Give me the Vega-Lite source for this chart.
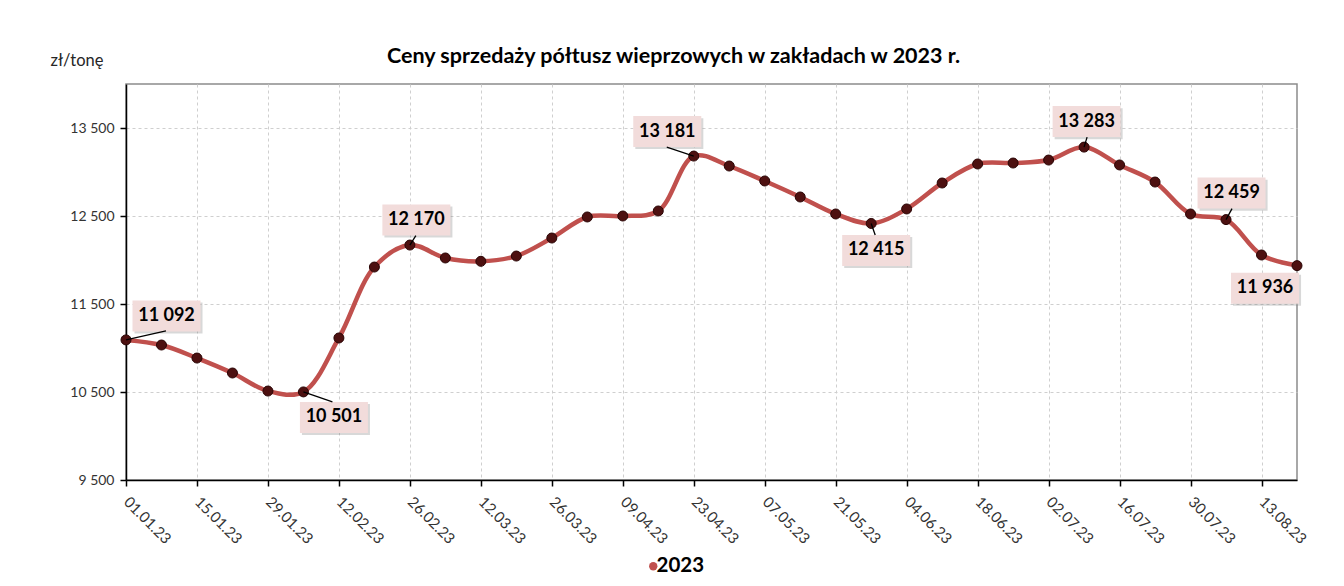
{
  "$schema": "https://vega.github.io/schema/vega-lite/v6.json",
  "autosize": {"type": "none"},
  "width": 1171,
  "height": 396,
  "padding": {"left": 126, "top": 84, "right": 47, "bottom": 106},
  "background": "white",
  "config": {
    "font": "Lato",
    "locale": {"number": {"decimal": ",", "thousands": " ", "grouping": [3], "currency": ["", " zł"]}},
    "view": {"stroke": "#8c8c8c", "strokeWidth": 1.5},
    "axis": {
      "domainColor": "#000000", "domainWidth": 1.5,
      "tickColor": "#000000", "tickWidth": 1.5, "tickSize": 6,
      "gridColor": "#cfcfcf", "gridDash": [3, 3], "gridWidth": 1,
      "labelFont": "Lato", "labelFontSize": 14, "labelColor": "#333333",
      "titleFont": "Lato"
    }
  },
  "title": {
    "text": "Ceny sprzedaży półtusz wieprzowych w zakładach w 2023 r.",
    "font": "Lato", "fontSize": 21.5, "fontWeight": "bold", "color": "#000000",
    "anchor": "middle", "frame": "group", "dx": -38, "dy": 29, "offset": 14
  },
  "data": {
    "values": [
      {"date": "2023-01-01", "price": 11092, "series": "2023"},
      {"date": "2023-01-08", "price": 11034, "series": "2023"},
      {"date": "2023-01-15", "price": 10886, "series": "2023"},
      {"date": "2023-01-22", "price": 10716, "series": "2023"},
      {"date": "2023-01-29", "price": 10511, "series": "2023"},
      {"date": "2023-02-05", "price": 10501, "series": "2023"},
      {"date": "2023-02-12", "price": 11114, "series": "2023"},
      {"date": "2023-02-19", "price": 11920, "series": "2023"},
      {"date": "2023-02-26", "price": 12170, "series": "2023"},
      {"date": "2023-03-05", "price": 12023, "series": "2023"},
      {"date": "2023-03-12", "price": 11985, "series": "2023"},
      {"date": "2023-03-19", "price": 12045, "series": "2023"},
      {"date": "2023-03-26", "price": 12250, "series": "2023"},
      {"date": "2023-04-02", "price": 12489, "series": "2023"},
      {"date": "2023-04-09", "price": 12500, "series": "2023"},
      {"date": "2023-04-16", "price": 12557, "series": "2023"},
      {"date": "2023-04-23", "price": 13181, "series": "2023"},
      {"date": "2023-04-30", "price": 13068, "series": "2023"},
      {"date": "2023-05-07", "price": 12898, "series": "2023"},
      {"date": "2023-05-14", "price": 12716, "series": "2023"},
      {"date": "2023-05-21", "price": 12523, "series": "2023"},
      {"date": "2023-05-28", "price": 12415, "series": "2023"},
      {"date": "2023-06-04", "price": 12580, "series": "2023"},
      {"date": "2023-06-11", "price": 12875, "series": "2023"},
      {"date": "2023-06-18", "price": 13091, "series": "2023"},
      {"date": "2023-06-25", "price": 13102, "series": "2023"},
      {"date": "2023-07-02", "price": 13136, "series": "2023"},
      {"date": "2023-07-09", "price": 13283, "series": "2023"},
      {"date": "2023-07-16", "price": 13080, "series": "2023"},
      {"date": "2023-07-23", "price": 12886, "series": "2023"},
      {"date": "2023-07-30", "price": 12523, "series": "2023"},
      {"date": "2023-08-06", "price": 12459, "series": "2023"},
      {"date": "2023-08-13", "price": 12057, "series": "2023"},
      {"date": "2023-08-20", "price": 11936, "series": "2023"}
    ]
  },
  "encoding": {
    "x": {
      "field": "date", "type": "temporal",
      "scale": {"type": "utc", "nice": false, "domain": [
        {"year": 2023, "month": 1, "date": 1, "utc": true},
        {"year": 2023, "month": 8, "date": 20, "utc": true}
      ]},
      "axis": {
        "title": null, "format": "%d.%m.%y", "labelAngle": 45, "labelAlign": "left", "labelBaseline": "middle", "labelPadding": 13, "labelFontSize": 15,
        "values": [
          {"year": 2023, "month": 1, "date": 1, "utc": true},
          {"year": 2023, "month": 1, "date": 15, "utc": true},
          {"year": 2023, "month": 1, "date": 29, "utc": true},
          {"year": 2023, "month": 2, "date": 12, "utc": true},
          {"year": 2023, "month": 2, "date": 26, "utc": true},
          {"year": 2023, "month": 3, "date": 12, "utc": true},
          {"year": 2023, "month": 3, "date": 26, "utc": true},
          {"year": 2023, "month": 4, "date": 9, "utc": true},
          {"year": 2023, "month": 4, "date": 23, "utc": true},
          {"year": 2023, "month": 5, "date": 7, "utc": true},
          {"year": 2023, "month": 5, "date": 21, "utc": true},
          {"year": 2023, "month": 6, "date": 4, "utc": true},
          {"year": 2023, "month": 6, "date": 18, "utc": true},
          {"year": 2023, "month": 7, "date": 2, "utc": true},
          {"year": 2023, "month": 7, "date": 16, "utc": true},
          {"year": 2023, "month": 7, "date": 30, "utc": true},
          {"year": 2023, "month": 8, "date": 13, "utc": true}
        ]
      }
    },
    "y": {
      "field": "price", "type": "quantitative",
      "scale": {"domain": [9500, 14000], "nice": false, "zero": false},
      "axis": {
        "values": [9500, 10500, 11500, 12500, 13500],
        "format": ",d",
        "labelPadding": 6,
        "title": "zł/tonę", "titleAngle": 0, "titleAlign": "left", "titleBaseline": "middle",
        "titleX": -76, "titleY": -24, "titleFontSize": 16.5, "titleFontWeight": "normal", "titleColor": "#262626"
      }
    }
  },
  "layer": [
    {
      "mark": {"type": "line", "interpolate": "catmull-rom", "strokeWidth": 4.5, "clip": false},
      "encoding": {
        "color": {
          "field": "series", "type": "nominal",
          "scale": {"range": ["#C0504D"]},
          "legend": {
            "title": null, "orient": "none", "legendX": 517, "legendY": 472, "padding": 0,
            "symbolType": "circle", "symbolSize": 70, "symbolFillColor": "#C0504D", "symbolStrokeWidth": 0,
            "labelFont": "Lato", "labelFontSize": 20.5, "labelFontWeight": "bold", "labelColor": "#000000", "labelOffset": -7
          }
        }
      }
    },
    {
      "mark": {"type": "point", "filled": true, "size": 100, "color": "#4d1010", "stroke": "#2a0505", "strokeWidth": 1, "opacity": 1, "clip": false}
    },
    {
      "transform": [{"filter": "datum.price == 11092"}],
      "layer": [
        {"mark": {"type": "point", "shape": "M0.251,-1.102 H2.251 V-0.19 H0.251 Z", "size": 4624, "filled": true, "color": "#7f7f7f", "opacity": 0.3, "strokeWidth": 0}},
        {"mark": {"type": "point", "shape": "M0.191,-1.162 H2.191 V-0.25 H0.191 Z", "size": 4624, "filled": true, "color": "#F2DCDB", "opacity": 1, "strokeWidth": 0}},
        {"mark": {"type": "point", "shape": "M0,0 L1.176,-0.265", "size": 4624, "filled": false, "stroke": "#000000", "strokeWidth": 1.3, "opacity": 1}},
        {"mark": {"type": "text", "dx": 40.5, "dy": -24, "align": "center", "baseline": "middle", "font": "Lato", "fontSize": 18, "fontWeight": "bold", "color": "#000000"}, "encoding": {"text": {"field": "price", "type": "quantitative", "format": ",d"}}}
      ]
    },
    {
      "transform": [{"filter": "datum.price == 10501"}],
      "layer": [
        {"mark": {"type": "point", "shape": "M-0.043,0.354 H1.957 V1.266 H-0.043 Z", "size": 4624, "filled": true, "color": "#7f7f7f", "opacity": 0.3, "strokeWidth": 0}},
        {"mark": {"type": "point", "shape": "M-0.103,0.294 H1.897 V1.206 H-0.103 Z", "size": 4624, "filled": true, "color": "#F2DCDB", "opacity": 1, "strokeWidth": 0}},
        {"mark": {"type": "point", "shape": "M0,0 L0.853,0.294", "size": 4624, "filled": false, "stroke": "#000000", "strokeWidth": 1.3, "opacity": 1}},
        {"mark": {"type": "text", "dx": 30.5, "dy": 25.5, "align": "center", "baseline": "middle", "font": "Lato", "fontSize": 18, "fontWeight": "bold", "color": "#000000"}, "encoding": {"text": {"field": "price", "type": "quantitative", "format": ",d"}}}
      ]
    },
    {
      "transform": [{"filter": "datum.price == 12170"}],
      "layer": [
        {"mark": {"type": "point", "shape": "M-0.749,-1.131 H1.251 V-0.219 H-0.749 Z", "size": 4624, "filled": true, "color": "#7f7f7f", "opacity": 0.3, "strokeWidth": 0}},
        {"mark": {"type": "point", "shape": "M-0.809,-1.191 H1.191 V-0.279 H-0.809 Z", "size": 4624, "filled": true, "color": "#F2DCDB", "opacity": 1, "strokeWidth": 0}},
        {"mark": {"type": "point", "shape": "M0,0 L0.176,-0.279", "size": 4624, "filled": false, "stroke": "#000000", "strokeWidth": 1.3, "opacity": 1}},
        {"mark": {"type": "text", "dx": 6.5, "dy": -25, "align": "center", "baseline": "middle", "font": "Lato", "fontSize": 18, "fontWeight": "bold", "color": "#000000"}, "encoding": {"text": {"field": "price", "type": "quantitative", "format": ",d"}}}
      ]
    },
    {
      "transform": [{"filter": "datum.price == 13181"}],
      "layer": [
        {"mark": {"type": "point", "shape": "M-1.719,-1.116 H0.281 V-0.205 H-1.719 Z", "size": 4624, "filled": true, "color": "#7f7f7f", "opacity": 0.3, "strokeWidth": 0}},
        {"mark": {"type": "point", "shape": "M-1.779,-1.176 H0.221 V-0.265 H-1.779 Z", "size": 4624, "filled": true, "color": "#F2DCDB", "opacity": 1, "strokeWidth": 0}},
        {"mark": {"type": "point", "shape": "M0,0 L-0.794,-0.265", "size": 4624, "filled": false, "stroke": "#000000", "strokeWidth": 1.3, "opacity": 1}},
        {"mark": {"type": "text", "dx": -26.5, "dy": -24.5, "align": "center", "baseline": "middle", "font": "Lato", "fontSize": 18, "fontWeight": "bold", "color": "#000000"}, "encoding": {"text": {"field": "price", "type": "quantitative", "format": ",d"}}}
      ]
    },
    {
      "transform": [{"filter": "datum.price == 12415"}],
      "layer": [
        {"mark": {"type": "point", "shape": "M-0.793,0.398 H1.207 V1.31 H-0.793 Z", "size": 4624, "filled": true, "color": "#7f7f7f", "opacity": 0.3, "strokeWidth": 0}},
        {"mark": {"type": "point", "shape": "M-0.853,0.338 H1.147 V1.25 H-0.853 Z", "size": 4624, "filled": true, "color": "#F2DCDB", "opacity": 1, "strokeWidth": 0}},
        {"mark": {"type": "point", "shape": "M0,0 L0.118,0.338", "size": 4624, "filled": false, "stroke": "#000000", "strokeWidth": 1.3, "opacity": 1}},
        {"mark": {"type": "text", "dx": 5, "dy": 27, "align": "center", "baseline": "middle", "font": "Lato", "fontSize": 18, "fontWeight": "bold", "color": "#000000"}, "encoding": {"text": {"field": "price", "type": "quantitative", "format": ",d"}}}
      ]
    },
    {
      "transform": [{"filter": "datum.price == 13283"}],
      "layer": [
        {"mark": {"type": "point", "shape": "M-0.866,-1.146 H1.134 V-0.234 H-0.866 Z", "size": 4624, "filled": true, "color": "#7f7f7f", "opacity": 0.3, "strokeWidth": 0}},
        {"mark": {"type": "point", "shape": "M-0.926,-1.206 H1.074 V-0.294 H-0.926 Z", "size": 4624, "filled": true, "color": "#F2DCDB", "opacity": 1, "strokeWidth": 0}},
        {"mark": {"type": "point", "shape": "M0,0 L0.088,-0.294", "size": 4624, "filled": false, "stroke": "#000000", "strokeWidth": 1.3, "opacity": 1}},
        {"mark": {"type": "text", "dx": 2.5, "dy": -25.5, "align": "center", "baseline": "middle", "font": "Lato", "fontSize": 18, "fontWeight": "bold", "color": "#000000"}, "encoding": {"text": {"field": "price", "type": "quantitative", "format": ",d"}}}
      ]
    },
    {
      "transform": [{"filter": "datum.price == 12459"}],
      "layer": [
        {"mark": {"type": "point", "shape": "M-0.778,-1.175 H1.222 V-0.264 H-0.778 Z", "size": 4624, "filled": true, "color": "#7f7f7f", "opacity": 0.3, "strokeWidth": 0}},
        {"mark": {"type": "point", "shape": "M-0.838,-1.235 H1.162 V-0.324 H-0.838 Z", "size": 4624, "filled": true, "color": "#F2DCDB", "opacity": 1, "strokeWidth": 0}},
        {"mark": {"type": "point", "shape": "M0,0 L0.176,-0.324", "size": 4624, "filled": false, "stroke": "#000000", "strokeWidth": 1.3, "opacity": 1}},
        {"mark": {"type": "text", "dx": 5.5, "dy": -26.5, "align": "center", "baseline": "middle", "font": "Lato", "fontSize": 18, "fontWeight": "bold", "color": "#000000"}, "encoding": {"text": {"field": "price", "type": "quantitative", "format": ",d"}}}
      ]
    },
    {
      "transform": [{"filter": "datum.price == 11936"}],
      "layer": [
        {"mark": {"type": "point", "shape": "M-1.881,0.266 H0.119 V1.178 H-1.881 Z", "size": 4624, "filled": true, "color": "#7f7f7f", "opacity": 0.3, "strokeWidth": 0, "clip": false}},
        {"mark": {"type": "point", "shape": "M-1.941,0.206 H0.059 V1.118 H-1.941 Z", "size": 4624, "filled": true, "color": "#F2DCDB", "opacity": 1, "strokeWidth": 0, "clip": false}},
        {"mark": {"type": "text", "dx": -32, "dy": 22.5, "align": "center", "baseline": "middle", "font": "Lato", "fontSize": 18, "fontWeight": "bold", "color": "#000000"}, "encoding": {"text": {"field": "price", "type": "quantitative", "format": ",d"}}}
      ]
    }
  ]
}
